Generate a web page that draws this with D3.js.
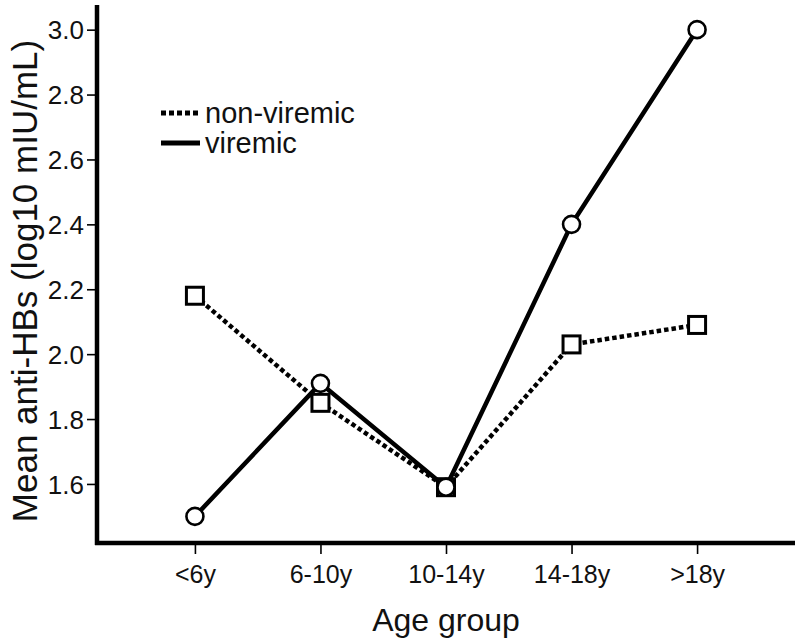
<!DOCTYPE html>
<html>
<head>
<meta charset="utf-8">
<script src="https://cdn.jsdelivr.net/npm/d3@7"></script>
<style>
  html, body { margin: 0; padding: 0; background: #fff; }
  svg { display: block; }
  text { font-family: "Liberation Sans", Arial, sans-serif; fill: #111; }
</style>
</head>
<body>
<svg id="chart" width="800" height="644"></svg>
<script>
const categories = ["<6y", "6-10y", "10-14y", "14-18y", ">18y"];
const nonViremic = [2.18, 1.85, 1.59, 2.03, 2.09];
const viremic = [1.50, 1.91, 1.59, 2.40, 3.00];
const yTicks = [1.6, 1.8, 2.0, 2.2, 2.4, 2.6, 2.8, 3.0];

(function () {
const svg = d3.select("#chart");
const mLeft = 97, mRight = 795, mTop = 5, mBottom = 543;

const x = d3.scalePoint().domain(categories).range([mLeft, mRight]).padding(0.78);
const y = d3.scaleLinear().domain([1.418, 3.076]).range([mBottom, mTop]);

// axes
const yAxis = svg.append("g").attr("transform", `translate(${mLeft},0)`)
  .call(d3.axisLeft(y).tickValues(yTicks).tickFormat(d3.format(".1f")).tickSize(10).tickSizeOuter(0));
const xAxis = svg.append("g").attr("transform", `translate(0,${mBottom})`)
  .call(d3.axisBottom(x).tickSize(11).tickSizeOuter(0));

[yAxis, xAxis].forEach(g => {
  g.select(".domain").attr("stroke", "#000").attr("stroke-width", 4.5);
  g.selectAll(".tick line").attr("stroke", "#000").attr("stroke-width", 1.6);
  g.selectAll(".tick text").attr("fill", "#111")
    .attr("font-family", '"Liberation Sans", Arial, sans-serif');
});
yAxis.selectAll(".tick text").attr("font-size", 26);
xAxis.selectAll(".tick text").attr("font-size", 25);
yAxis.select(".domain").attr("d", `M0,${mBottom + 2}V${mTop}`);
xAxis.select(".domain").attr("d", `M${mLeft - 2},0H${mRight}`);
yAxis.selectAll(".tick text").attr("x", -13).attr("dy", "0.35em");
xAxis.selectAll(".tick text").attr("y", 22).attr("dy", "0.71em");

// axis titles
svg.append("text").attr("transform", `translate(37,${(mTop + mBottom) / 2 + 7}) rotate(-90)`)
  .attr("text-anchor", "middle").attr("font-size", 35).text("Mean anti-HBs (log10 mIU/mL)");
svg.append("text").attr("x", (mLeft + mRight) / 2).attr("y", 631)
  .attr("text-anchor", "middle").attr("font-size", 32).text("Age group");

const line = d3.line().x((d, i) => x(categories[i])).y(d => y(d));

// non-viremic dotted
svg.append("path").datum(nonViremic).attr("d", line)
  .attr("fill", "none").attr("stroke", "#000").attr("stroke-width", 4.5)
  .attr("stroke-dasharray", "4.5,3");
// viremic solid
svg.append("path").datum(viremic).attr("d", line)
  .attr("fill", "none").attr("stroke", "#000").attr("stroke-width", 4.5);

// markers
const sq = 17;
svg.append("g").selectAll("rect").data(nonViremic).join("rect")
  .attr("x", (d, i) => x(categories[i]) - sq / 2).attr("y", d => y(d) - sq / 2)
  .attr("width", sq).attr("height", sq)
  .attr("fill", "#fff").attr("stroke", "#000").attr("stroke-width", 3);
svg.append("g").selectAll("circle").data(viremic).join("circle")
  .attr("cx", (d, i) => x(categories[i])).attr("cy", d => y(d)).attr("r", 8.5)
  .attr("fill", "#fff").attr("stroke", "#000").attr("stroke-width", 2.6);

// legend
const lg = svg.append("g");
lg.append("line").attr("x1", 161).attr("x2", 200).attr("y1", 113).attr("y2", 113)
  .attr("stroke", "#000").attr("stroke-width", 5).attr("stroke-dasharray", "5,3");
lg.append("text").attr("x", 205).attr("y", 123).attr("font-size", 29).text("non-viremic");
lg.append("line").attr("x1", 161).attr("x2", 200).attr("y1", 143).attr("y2", 143)
  .attr("stroke", "#000").attr("stroke-width", 5);
lg.append("text").attr("x", 205).attr("y", 153).attr("font-size", 29).text("viremic");
})();
</script>
</body>
</html>
